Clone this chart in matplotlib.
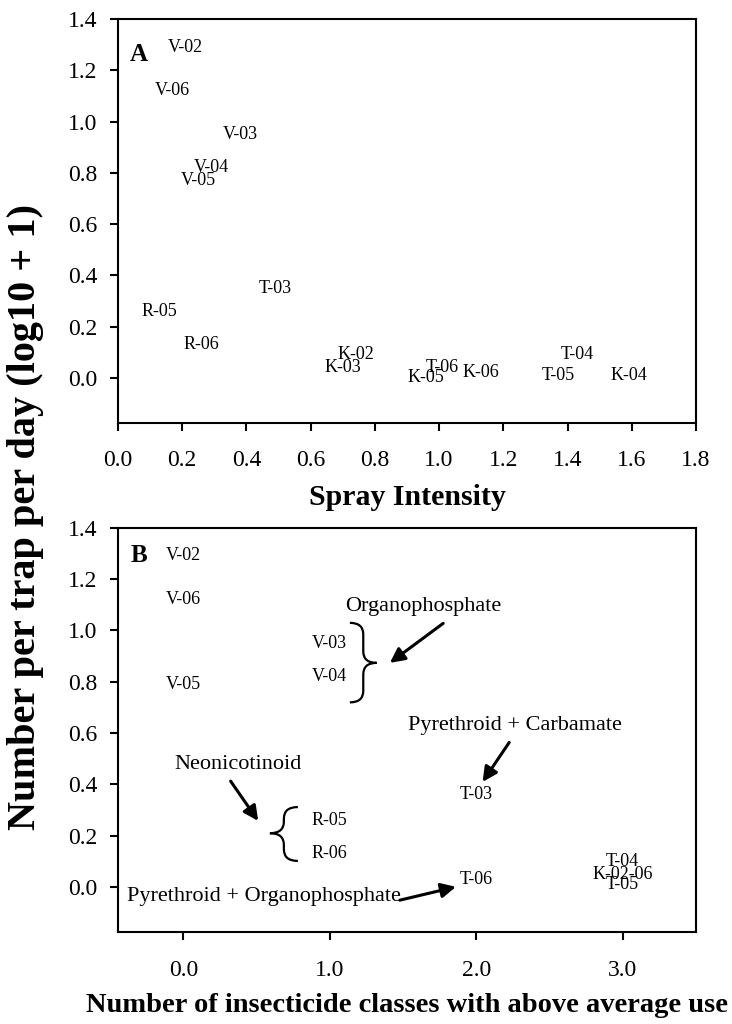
import numpy as np
import matplotlib
matplotlib.use("Agg")
import matplotlib.pyplot as plt
from matplotlib.path import Path
from matplotlib.patches import PathPatch

plt.rcParams['font.family'] = ['Liberation Serif', 'DejaVu Serif']

# =========================
# data, panel A (spray intensity)
# =========================
sites_a = ['V-02', 'V-06', 'V-03', 'V-04', 'V-05', 'T-03', 'R-05', 'R-06',
           'K-02', 'K-03', 'K-05', 'T-06', 'K-06', 'T-04', 'T-05', 'K-04']
spray = [0.21, 0.17, 0.38, 0.29, 0.25, 0.49, 0.13, 0.26,
         0.74, 0.70, 0.96, 1.01, 1.13, 1.43, 1.37, 1.59]
count_a = [1.29, 1.12, 0.95, 0.82, 0.77, 0.35, 0.26, 0.13,
           0.09, 0.04, 0.00, 0.04, 0.02, 0.09, 0.01, 0.01]

# =========================
# data, panel B (insecticide classes)
# =========================
sites_b = ['V-02', 'V-06', 'V-05', 'V-03', 'V-04', 'R-05', 'R-06',
           'T-03', 'T-06', 'T-04', 'K-02-06', 'T-05']
classes = [0, 0, 0, 1, 1, 1, 1, 2, 2, 3, 3, 3]
count_b = [1.29, 1.12, 0.79, 0.95, 0.82, 0.26, 0.13,
           0.36, 0.03, 0.10, 0.05, 0.01]

xticks_a = np.arange(0, 1.81, 0.2)
xticks_b = [0, 1, 2, 3]
yticks = np.arange(0, 1.41, 0.2)

# annotation text + arrows (tail -> head) in panel B data units
notes = ['Organophosphate', 'Pyrethroid + Carbamate', 'Neonicotinoid',
         'Pyrethroid + Organophosphate']
note_xy = [(1.636, 1.092), (2.263, 0.630), (0.373, 0.475), (0.550, -0.039)]
arrow_tail = [(1.774, 1.027), (2.225, 0.563), (0.323, 0.412), (1.478, -0.052)]
arrow_head = [(1.410, 0.873), (2.043, 0.409), (0.511, 0.257), (1.861, 0.0)]

# braces: x end, x tip, y low, y high, y mid
braces = [(1.137, 1.320, 0.719, 1.029, 0.873),
          (0.782, 0.591, 0.101, 0.311, 0.209)]


def draw_brace(ax, x_end, x_tip, y_lo, y_hi, y_mid, r=0.045):
    xs = (x_end + x_tip) / 2
    verts = [(x_end, y_hi), (xs, y_hi), (xs, y_hi - r),
             (xs, y_mid + r),
             (xs, y_mid), (x_tip, y_mid),
             (xs, y_mid), (xs, y_mid - r),
             (xs, y_lo + r),
             (xs, y_lo), (x_end, y_lo)]
    codes = [Path.MOVETO, Path.CURVE3, Path.CURVE3,
             Path.LINETO,
             Path.CURVE3, Path.CURVE3,
             Path.CURVE3, Path.CURVE3,
             Path.LINETO,
             Path.CURVE3, Path.CURVE3]
    ax.add_patch(PathPatch(Path(verts, codes), fill=False, lw=1.6, color='black'))


def style_axes(ax):
    for s in ax.spines.values():
        s.set_linewidth(1.5)
    ax.tick_params(direction='out', length=6, width=1.5, labelsize=17)
    ax.tick_params(axis='x', pad=14)
    ax.tick_params(axis='y', pad=9)
    ax.set_ylim(-0.175, 1.4)
    ax.set_yticks(yticks)
    ax.set_yticklabels(['%.1f' % v for v in yticks])


fig = plt.figure(figsize=(7.32, 10.24), dpi=100)

# ---- panel A ----
ax1 = fig.add_axes([0.1612, 0.5872, 0.7896, 0.3942])
style_axes(ax1)
ax1.set_xlim(0, 1.8)
ax1.set_xticks(xticks_a)
ax1.set_xticklabels(['%.1f' % v for v in xticks_a])
for s, x, y in zip(sites_a, spray, count_a):
    ax1.text(x, y, s, ha='center', va='center', fontsize=13)
ax1.set_xlabel('Spray Intensity', fontsize=21.5, fontweight='bold', labelpad=9)
ax1.text(0.036, 0.912, 'A', transform=ax1.transAxes, fontsize=18,
         fontweight='bold', ha='center', va='center')

# ---- panel B ----
ax2 = fig.add_axes([0.1612, 0.0901, 0.7896, 0.3946])
style_axes(ax2)
ax2.set_xlim(-0.446, 3.5)
ax2.set_xticks(xticks_b)
ax2.set_xticklabels(['%.1f' % v for v in xticks_b])
for s, x, y in zip(sites_b, classes, count_b):
    ax2.text(x, y, s, ha='center', va='center', fontsize=13)
ax2.set_xlabel('Number of insecticide classes with above average use',
               fontsize=20.5, fontweight='bold', labelpad=9)
ax2.text(0.036, 0.930, 'B', transform=ax2.transAxes, fontsize=18,
         fontweight='bold', ha='center', va='center')

for t, xy in zip(notes, note_xy):
    ax2.text(xy[0], xy[1], t, ha='center', va='center', fontsize=16)
for tail, head in zip(arrow_tail, arrow_head):
    ax2.annotate('', xy=head, xytext=tail,
                 arrowprops=dict(arrowstyle='-|>', lw=2.2, color='black',
                                 mutation_scale=22, shrinkA=0, shrinkB=0))
for b in braces:
    draw_brace(ax2, *b)

fig.text(0.035, 0.495, 'Number per trap per day (log10 + 1)', rotation=90,
         fontsize=29, fontweight='bold', ha='center', va='center')

plt.savefig('out.png', dpi=100)
